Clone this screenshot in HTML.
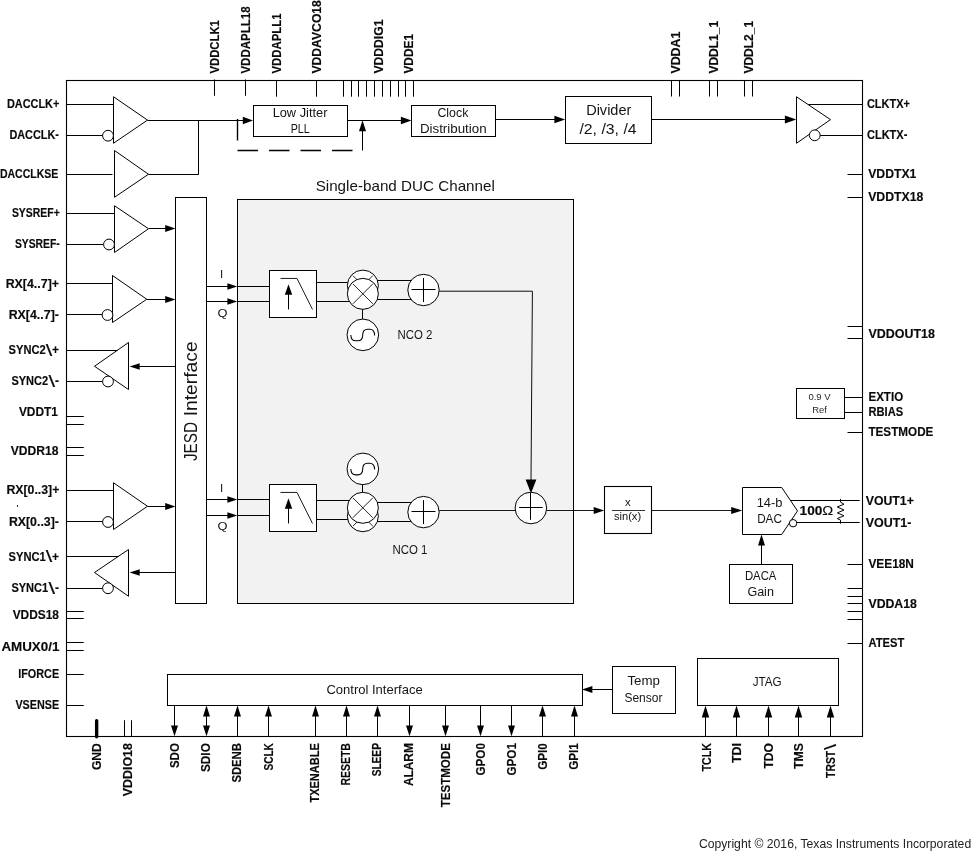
<!DOCTYPE html>
<html lang="en">
<head>
<meta charset="utf-8">
<title>Block Diagram</title>
<style>
html,body{margin:0;padding:0;background:#fff;}
svg{display:block;will-change:transform;}
text{white-space:pre;}
</style>
</head>
<body>
<svg width="972" height="851" viewBox="0 0 972 851">
<rect x="0" y="0" width="972" height="851" fill="#fff"/>
<g stroke="#000" fill="none" stroke-linecap="butt">
<rect x="66.5" y="80.5" width="796.0" height="656.0" fill="none" stroke-width="1.1"/>
<line x1="214.5" y1="79.5" x2="214.5" y2="95.8" stroke-width="1"/>
<line x1="245.5" y1="79.5" x2="245.5" y2="95.8" stroke-width="1"/>
<line x1="276.5" y1="80.3" x2="276.5" y2="96.7" stroke-width="1"/>
<line x1="316.5" y1="80.3" x2="316.5" y2="96.7" stroke-width="1"/>
<line x1="343.5" y1="80.3" x2="343.5" y2="96.7" stroke-width="1"/>
<line x1="351.5" y1="80.3" x2="351.5" y2="96.7" stroke-width="1"/>
<line x1="358.5" y1="80.3" x2="358.5" y2="96.7" stroke-width="1"/>
<line x1="366.5" y1="80.3" x2="366.5" y2="96.7" stroke-width="1"/>
<line x1="374.5" y1="80.3" x2="374.5" y2="96.7" stroke-width="1"/>
<line x1="382.5" y1="80.3" x2="382.5" y2="96.7" stroke-width="1"/>
<line x1="390.5" y1="80.3" x2="390.5" y2="96.7" stroke-width="1"/>
<line x1="398.5" y1="80.3" x2="398.5" y2="96.7" stroke-width="1"/>
<line x1="405.5" y1="80.3" x2="405.5" y2="96.7" stroke-width="1"/>
<line x1="413.5" y1="80.3" x2="413.5" y2="96.7" stroke-width="1"/>
<line x1="671.5" y1="80.3" x2="671.5" y2="96.5" stroke-width="1"/>
<line x1="679.5" y1="80.3" x2="679.5" y2="96.5" stroke-width="1"/>
<line x1="709.5" y1="80.3" x2="709.5" y2="96.5" stroke-width="1"/>
<line x1="717.5" y1="80.3" x2="717.5" y2="96.5" stroke-width="1"/>
<line x1="744.5" y1="80.3" x2="744.5" y2="96.5" stroke-width="1"/>
<line x1="752.5" y1="80.3" x2="752.5" y2="96.5" stroke-width="1"/>
<line x1="66.5" y1="416.5" x2="83.75" y2="416.5" stroke-width="1"/>
<line x1="66.5" y1="424.5" x2="83.75" y2="424.5" stroke-width="1"/>
<line x1="66.5" y1="447.5" x2="83.75" y2="447.5" stroke-width="1"/>
<line x1="66.5" y1="455.5" x2="83.75" y2="455.5" stroke-width="1"/>
<line x1="66.5" y1="611.5" x2="83.75" y2="611.5" stroke-width="1"/>
<line x1="66.5" y1="618.5" x2="83.75" y2="618.5" stroke-width="1"/>
<line x1="66.5" y1="642.5" x2="83.75" y2="642.5" stroke-width="1"/>
<line x1="66.5" y1="650.5" x2="83.75" y2="650.5" stroke-width="1"/>
<line x1="66.5" y1="674.5" x2="83.75" y2="674.5" stroke-width="1"/>
<line x1="66.5" y1="705.5" x2="83.75" y2="705.5" stroke-width="1"/>
<line x1="847.5" y1="174.5" x2="862.4" y2="174.5" stroke-width="1"/>
<line x1="847.5" y1="197.5" x2="862.4" y2="197.5" stroke-width="1"/>
<line x1="847.5" y1="326.5" x2="862.4" y2="326.5" stroke-width="1"/>
<line x1="847.5" y1="338.5" x2="862.4" y2="338.5" stroke-width="1"/>
<line x1="847.5" y1="432.5" x2="862.4" y2="432.5" stroke-width="1"/>
<line x1="847.5" y1="564.5" x2="862.4" y2="564.5" stroke-width="1"/>
<line x1="847.5" y1="588.5" x2="862.4" y2="588.5" stroke-width="1"/>
<line x1="847.5" y1="596.5" x2="862.4" y2="596.5" stroke-width="1"/>
<line x1="847.5" y1="603.5" x2="862.4" y2="603.5" stroke-width="1"/>
<line x1="847.5" y1="611.5" x2="862.4" y2="611.5" stroke-width="1"/>
<line x1="847.5" y1="619.5" x2="862.4" y2="619.5" stroke-width="1"/>
<line x1="847.5" y1="643.5" x2="862.4" y2="643.5" stroke-width="1"/>
<line x1="96.65" y1="720.8" x2="96.65" y2="736.8" stroke-width="3.4" stroke-linecap="round"/>
<line x1="124.5" y1="720.25" x2="124.5" y2="736.3" stroke-width="1"/>
<line x1="131.5" y1="720.25" x2="131.5" y2="736.3" stroke-width="1"/>
<line x1="66.5" y1="104.5" x2="113.5" y2="104.5" stroke-width="1"/>
<line x1="66.5" y1="135.5" x2="103" y2="135.5" stroke-width="1"/>
<polygon points="113.5,96.75 113.5,143.25 147.5,120.1" fill="#fff" stroke-width="1"/>
<circle cx="108" cy="135.7" r="5.4" fill="#fff" stroke-width="1"/>
<line x1="147.5" y1="120.5" x2="243" y2="120.5" stroke-width="1"/>
<polygon points="253,120.5 242.8,116.7 242.8,124.3" fill="#000" stroke="none"/>
<line x1="66.5" y1="174.5" x2="112.5" y2="174.5" stroke-width="1"/>
<polygon points="114.5,150.5 114.5,197.25 148.5,174.25" fill="#fff" stroke-width="1"/>
<line x1="148.5" y1="174.5" x2="198.75" y2="174.5" stroke-width="1"/>
<line x1="198.5" y1="120.1" x2="198.5" y2="174.25" stroke-width="1"/>
<line x1="66.5" y1="213.5" x2="114.5" y2="213.5" stroke-width="1"/>
<line x1="66.5" y1="244.5" x2="103.5" y2="244.5" stroke-width="1"/>
<polygon points="114.5,205.75 114.5,252.5 148.5,228.75" fill="#fff" stroke-width="1"/>
<circle cx="109" cy="244.5" r="5.4" fill="#fff" stroke-width="1"/>
<line x1="148.5" y1="228.5" x2="166" y2="228.5" stroke-width="1"/>
<polygon points="175.5,228.5 165.2,225.0 165.2,232.0" fill="#000" stroke="none"/>
<line x1="66.5" y1="283.5" x2="112.5" y2="283.5" stroke-width="1"/>
<line x1="66.5" y1="314.5" x2="102" y2="314.5" stroke-width="1"/>
<polygon points="112.5,275.5 112.5,322.5 146.75,299.25" fill="#fff" stroke-width="1"/>
<circle cx="107.5" cy="315" r="5.4" fill="#fff" stroke-width="1"/>
<line x1="146.75" y1="299.5" x2="166" y2="299.5" stroke-width="1"/>
<polygon points="175.5,299.5 165.2,296.0 165.2,303.0" fill="#000" stroke="none"/>
<polygon points="128.5,342.5 128.5,389.5 94.5,366.25" fill="#fff" stroke-width="1"/>
<line x1="66.5" y1="350.5" x2="117.5" y2="350.5" stroke-width="1"/>
<line x1="66.5" y1="381.5" x2="102.5" y2="381.5" stroke-width="1"/>
<circle cx="108" cy="381.5" r="5.4" fill="#fff" stroke-width="1"/>
<line x1="138" y1="366.5" x2="175.75" y2="366.5" stroke-width="1"/>
<polygon points="129.6,366.5 139.7,363.2 139.7,369.8" fill="#000" stroke="none"/>
<line x1="66.5" y1="490.5" x2="113.5" y2="490.5" stroke-width="1"/>
<line x1="66.5" y1="521.5" x2="102.5" y2="521.5" stroke-width="1"/>
<polygon points="113.5,482.75 113.5,529.5 147.5,506.25" fill="#fff" stroke-width="1"/>
<circle cx="108" cy="522" r="5.4" fill="#fff" stroke-width="1"/>
<line x1="147.5" y1="506.5" x2="166" y2="506.5" stroke-width="1"/>
<polygon points="175.5,506.5 165.2,503.0 165.2,510.0" fill="#000" stroke="none"/>
<polygon points="128.5,549.5 128.5,596.25 94.5,572.5" fill="#fff" stroke-width="1"/>
<line x1="66.5" y1="556.5" x2="118.5" y2="556.5" stroke-width="1"/>
<line x1="66.5" y1="588.5" x2="102.5" y2="588.5" stroke-width="1"/>
<circle cx="108" cy="588.25" r="5.4" fill="#fff" stroke-width="1"/>
<line x1="138" y1="572.5" x2="175.75" y2="572.5" stroke-width="1"/>
<polygon points="129.6,572.5 139.7,569.2 139.7,575.8" fill="#000" stroke="none"/>
<rect x="175.5" y="197.5" width="31.0" height="406.0" fill="#fff" stroke-width="1"/>
<rect x="237.5" y="199.5" width="336.0" height="404.0" fill="#f2f2f2" stroke-width="1"/>
<line x1="206.5" y1="286.5" x2="228" y2="286.5" stroke-width="1"/>
<polygon points="237.3,286.5 227.4,283.15 227.4,289.85" fill="#000" stroke="none"/>
<line x1="237.5" y1="286.5" x2="269.25" y2="286.5" stroke-width="1"/>
<line x1="206.5" y1="301.5" x2="228" y2="301.5" stroke-width="1"/>
<polygon points="237.3,301.5 227.4,298.15 227.4,304.85" fill="#000" stroke="none"/>
<line x1="237.5" y1="301.5" x2="269.25" y2="301.5" stroke-width="1"/>
<line x1="206.5" y1="499.5" x2="228" y2="499.5" stroke-width="1"/>
<polygon points="237.3,499.5 227.4,496.15 227.4,502.85" fill="#000" stroke="none"/>
<line x1="237.5" y1="499.5" x2="269.25" y2="499.5" stroke-width="1"/>
<line x1="206.5" y1="515.5" x2="228" y2="515.5" stroke-width="1"/>
<polygon points="237.3,515.5 227.4,512.15 227.4,518.85" fill="#000" stroke="none"/>
<line x1="237.5" y1="515.5" x2="269.25" y2="515.5" stroke-width="1"/>
<rect x="253.5" y="105.5" width="94.0" height="31.0" fill="#fff" stroke-width="1"/>
<line x1="237.5" y1="119" x2="237.5" y2="140.5" stroke-width="1.4"/>
<line x1="237.5" y1="150.5" x2="352.5" y2="150.5" stroke-width="1.4" stroke-dasharray="20.5 11"/>
<line x1="362.5" y1="129" x2="362.5" y2="150.5" stroke-width="1"/>
<polygon points="362.5,120.3 359.0,131.2 366.0,131.2" fill="#000" stroke="none"/>
<line x1="347.5" y1="120.5" x2="402" y2="120.5" stroke-width="1"/>
<polygon points="411.5,120.5 400.9,116.7 400.9,124.3" fill="#000" stroke="none"/>
<rect x="411.5" y="105.5" width="84.0" height="31.0" fill="#fff" stroke-width="1"/>
<line x1="495.5" y1="119.5" x2="556" y2="119.5" stroke-width="1"/>
<polygon points="565.2,119.5 554.4000000000001,115.7 554.4000000000001,123.3" fill="#000" stroke="none"/>
<rect x="565.5" y="96.5" width="86.0" height="47.0" fill="#fff" stroke-width="1"/>
<line x1="651.5" y1="119.5" x2="787" y2="119.5" stroke-width="1"/>
<polygon points="796.3,119.5 784.9,115.55 784.9,123.45" fill="#000" stroke="none"/>
<polygon points="796.5,96.75 796.5,143.25 830.5,119.6" fill="#fff" stroke-width="1"/>
<line x1="808.3" y1="104.5" x2="862.4" y2="104.5" stroke-width="1"/>
<line x1="820" y1="135.5" x2="862.4" y2="135.5" stroke-width="1"/>
<circle cx="814.75" cy="135.3" r="5.4" fill="#fff" stroke-width="1"/>
<rect x="269.5" y="270.5" width="47.0" height="47.0" fill="#fff" stroke-width="1"/>
<polyline points="280.5,278.45 297,278.45 312.5,309.45" fill="none" stroke-width="0.9"/>
<line x1="288.5" y1="293.25" x2="288.5" y2="309.45" stroke-width="1"/>
<polygon points="288.5,284.15 284.8,294.75 292.2,294.75" fill="#000" stroke="none"/>
<rect x="269.5" y="484.5" width="47.0" height="47.0" fill="#fff" stroke-width="1"/>
<polyline points="280.5,492.45 297,492.45 312.5,523.45" fill="none" stroke-width="0.9"/>
<line x1="288.5" y1="507.25" x2="288.5" y2="523.45" stroke-width="1"/>
<polygon points="288.5,498.15 284.8,508.75 292.2,508.75" fill="#000" stroke="none"/>
<line x1="316.75" y1="282.5" x2="350" y2="282.5" stroke-width="1"/>
<line x1="316.75" y1="301.5" x2="350" y2="301.5" stroke-width="1"/>
<line x1="362.5" y1="309" x2="362.5" y2="320" stroke-width="1"/>
<line x1="375" y1="280.5" x2="415" y2="280.5" stroke-width="1"/>
<line x1="375" y1="299.5" x2="415" y2="299.5" stroke-width="1"/>
<circle cx="362.85" cy="285.6" r="15.5" fill="#fff" stroke-width="1"/>
<line x1="352.85" y1="275.6" x2="372.85" y2="295.6" stroke-width="0.85"/>
<line x1="352.85" y1="295.6" x2="372.85" y2="275.6" stroke-width="0.85"/>
<circle cx="362.85" cy="293.85" r="15.5" fill="#fff" stroke-width="1"/>
<line x1="352.85" y1="283.85" x2="372.85" y2="303.85" stroke-width="0.85"/>
<line x1="352.85" y1="303.85" x2="372.85" y2="283.85" stroke-width="0.85"/>
<circle cx="423.5" cy="290" r="15.7" fill="#fff" stroke-width="1"/>
<line x1="411.5" y1="289.5" x2="435.5" y2="289.5" stroke-width="1"/>
<line x1="423.5" y1="278" x2="423.5" y2="302" stroke-width="1"/>
<circle cx="362.85" cy="334.85" r="15.8" fill="#fff" stroke-width="1"/>
<path d="M350.85,335.0 C350.85,338.8 352.65000000000003,340.8 355.85,340.8 L357.70000000000005,340.8 C360.90000000000003,340.8 362.70000000000005,338.8 362.70000000000005,335.0 C362.70000000000005,331.2 364.50000000000006,329.2 367.70000000000005,329.2 L369.6,329.2 C372.8,329.2 374.6,331.2 374.6,335.4" fill="none" stroke-width="1.05"/>
<polyline points="439.2,291.2 532.4,291.2 531,480" fill="none" stroke-width="0.95"/>
<line x1="316.75" y1="500.5" x2="350" y2="500.5" stroke-width="1"/>
<line x1="316.75" y1="519.5" x2="350" y2="519.5" stroke-width="1"/>
<line x1="362.5" y1="484" x2="362.5" y2="493" stroke-width="1"/>
<line x1="375" y1="502.5" x2="415" y2="502.5" stroke-width="1"/>
<line x1="375" y1="521.5" x2="415" y2="521.5" stroke-width="1"/>
<circle cx="362.85" cy="516.2" r="15.5" fill="#fff" stroke-width="1"/>
<line x1="352.85" y1="506.2" x2="372.85" y2="526.2" stroke-width="0.85"/>
<line x1="352.85" y1="526.2" x2="372.85" y2="506.2" stroke-width="0.85"/>
<circle cx="362.85" cy="507.8" r="15.5" fill="#fff" stroke-width="1"/>
<line x1="352.85" y1="497.8" x2="372.85" y2="517.8" stroke-width="0.85"/>
<line x1="352.85" y1="517.8" x2="372.85" y2="497.8" stroke-width="0.85"/>
<circle cx="423.5" cy="512.1" r="15.7" fill="#fff" stroke-width="1"/>
<line x1="411.5" y1="511.5" x2="435.5" y2="511.5" stroke-width="1"/>
<line x1="423.5" y1="500.1" x2="423.5" y2="524.1" stroke-width="1"/>
<circle cx="362.85" cy="468.9" r="15.8" fill="#fff" stroke-width="1"/>
<path d="M350.85,469.04999999999995 C350.85,472.84999999999997 352.65000000000003,474.84999999999997 355.85,474.84999999999997 L357.70000000000005,474.84999999999997 C360.90000000000003,474.84999999999997 362.70000000000005,472.84999999999997 362.70000000000005,469.04999999999995 C362.70000000000005,465.24999999999994 364.50000000000006,463.24999999999994 367.70000000000005,463.24999999999994 L369.6,463.24999999999994 C372.8,463.24999999999994 374.6,465.24999999999994 374.6,469.44999999999993" fill="none" stroke-width="1.05"/>
<line x1="439.2" y1="510.5" x2="515.5" y2="510.5" stroke-width="0.9"/>
<line x1="546.5" y1="510.5" x2="595" y2="510.5" stroke-width="0.9"/>
<circle cx="530.9" cy="508" r="15.8" fill="#fff" stroke-width="1"/>
<line x1="519.1" y1="507.5" x2="542.6999999999999" y2="507.5" stroke-width="1"/>
<line x1="530.5" y1="493" x2="530.5" y2="519.8" stroke-width="1"/>
<polygon points="531,493.3 525.6,479.6 536.4,479.6" fill="#000" stroke="none"/>
<polygon points="604.2,510.5 593.7,507.05 593.7,513.95" fill="#000" stroke="none"/>
<rect x="604.5" y="486.5" width="47.0" height="47.0" fill="#fff" stroke-width="1.1"/>
<line x1="612" y1="510.5" x2="645" y2="510.5" stroke-width="0.8"/>
<line x1="651.6" y1="510.5" x2="733" y2="510.5" stroke-width="0.9"/>
<polygon points="742.2,510.5 731.2,507.0 731.2,514.0" fill="#000" stroke="none"/>
<line x1="790.5" y1="500.5" x2="859.7" y2="500.5" stroke-width="1"/>
<line x1="796.5" y1="522.5" x2="859.7" y2="522.5" stroke-width="1"/>
<polygon points="742.5,487.5 781.7,487.5 797.5,510.9 781.7,534.5 742.5,534.5" fill="#fff" stroke-width="1"/>
<circle cx="793.1" cy="523.2" r="3.7" fill="#fff" stroke-width="1"/>
<polyline points="840.5,499 840.5,502.1 844,504.2 837.3,507 844,510 837.3,512.9 844,515.7 837.3,518.6 840.5,520.1 840.5,523.7" fill="none" stroke-width="1" stroke-linejoin="miter"/>
<rect x="729.5" y="564.5" width="63.0" height="39.0" fill="#fff" stroke-width="1"/>
<line x1="761.5" y1="544" x2="761.5" y2="564.5" stroke-width="1"/>
<polygon points="761.5,534.5 758.0,545.4 765.0,545.4" fill="#000" stroke="none"/>
<rect x="796.5" y="388.5" width="48.0" height="30.0" fill="#fff" stroke-width="1"/>
<line x1="844.5" y1="397.5" x2="862.4" y2="397.5" stroke-width="1"/>
<line x1="844.5" y1="412.5" x2="862.4" y2="412.5" stroke-width="1"/>
<rect x="167.5" y="674.5" width="415.0" height="31.0" fill="#fff" stroke-width="1"/>
<rect x="612.5" y="666.5" width="63.0" height="47.0" fill="#fff" stroke-width="1"/>
<line x1="592" y1="689.5" x2="612.5" y2="689.5" stroke-width="1"/>
<polygon points="582.1,689.5 592.4,686.0 592.4,693.0" fill="#000" stroke="none"/>
<rect x="697.5" y="658.5" width="141.0" height="47.0" fill="#fff" stroke-width="1"/>
<line x1="174.5" y1="705.6" x2="174.5" y2="727.3" stroke-width="1"/>
<polygon points="174.5,736.3 171.0,725.4 178.0,725.4" fill="#000" stroke="none"/>
<line x1="206.5" y1="714.6" x2="206.5" y2="727.3" stroke-width="1"/>
<polygon points="206.5,705.6 203.0,716.5 210.0,716.5" fill="#000" stroke="none"/>
<polygon points="206.5,736.3 203.0,725.4 210.0,725.4" fill="#000" stroke="none"/>
<line x1="237.5" y1="714.6" x2="237.5" y2="736.3" stroke-width="1"/>
<polygon points="237.5,705.6 233.9995,716.5 241.0005,716.5" fill="#000" stroke="none"/>
<line x1="268.5" y1="714.6" x2="268.5" y2="736.3" stroke-width="1"/>
<polygon points="268.5,705.6 264.9995,716.5 272.0005,716.5" fill="#000" stroke="none"/>
<line x1="315.5" y1="714.6" x2="315.5" y2="736.3" stroke-width="1"/>
<polygon points="315.5,705.6 311.9995,716.5 319.0005,716.5" fill="#000" stroke="none"/>
<line x1="346.5" y1="714.6" x2="346.5" y2="736.3" stroke-width="1"/>
<polygon points="346.5,705.6 342.9995,716.5 350.0005,716.5" fill="#000" stroke="none"/>
<line x1="377.5" y1="714.6" x2="377.5" y2="736.3" stroke-width="1"/>
<polygon points="377.5,705.6 373.9995,716.5 381.0005,716.5" fill="#000" stroke="none"/>
<line x1="409.5" y1="705.6" x2="409.5" y2="727.3" stroke-width="1"/>
<polygon points="409.5,736.3 406.0,725.4 413.0,725.4" fill="#000" stroke="none"/>
<line x1="445.5" y1="705.6" x2="445.5" y2="727.3" stroke-width="1"/>
<polygon points="445.5,736.3 442.0,725.4 449.0,725.4" fill="#000" stroke="none"/>
<line x1="480.5" y1="705.6" x2="480.5" y2="727.3" stroke-width="1"/>
<polygon points="480.5,736.3 477.0,725.4 484.0,725.4" fill="#000" stroke="none"/>
<line x1="511.5" y1="705.6" x2="511.5" y2="727.3" stroke-width="1"/>
<polygon points="511.5,736.3 508.0,725.4 515.0,725.4" fill="#000" stroke="none"/>
<line x1="542.5" y1="714.6" x2="542.5" y2="736.3" stroke-width="1"/>
<polygon points="542.5,705.6 538.9995,716.5 546.0005,716.5" fill="#000" stroke="none"/>
<line x1="574.5" y1="714.6" x2="574.5" y2="736.3" stroke-width="1"/>
<polygon points="574.5,705.6 570.9995,716.5 578.0005,716.5" fill="#000" stroke="none"/>
<line x1="705.5" y1="714.5" x2="705.5" y2="736.3" stroke-width="1"/>
<polygon points="705.5,705.5 701.7995,717.5 709.2005,717.5" fill="#000" stroke="none"/>
<line x1="736.5" y1="714.5" x2="736.5" y2="736.3" stroke-width="1"/>
<polygon points="736.5,705.5 732.7995,717.5 740.2005,717.5" fill="#000" stroke="none"/>
<line x1="768.5" y1="714.5" x2="768.5" y2="736.3" stroke-width="1"/>
<polygon points="768.5,705.5 764.7995,717.5 772.2005,717.5" fill="#000" stroke="none"/>
<line x1="798.5" y1="714.5" x2="798.5" y2="736.3" stroke-width="1"/>
<polygon points="798.5,705.5 794.7995,717.5 802.2005,717.5" fill="#000" stroke="none"/>
<line x1="830.5" y1="714.5" x2="830.5" y2="736.3" stroke-width="1"/>
<polygon points="830.5,705.5 826.7995,717.5 834.2005,717.5" fill="#000" stroke="none"/>
<rect x="17" y="505" width="1" height="2" fill="#222" stroke="none"/>
</g>
<g font-family="'Liberation Sans', Arial, sans-serif" stroke="none">
<text x="6.9" y="108" font-size="12.3" font-weight="bold" stroke="#0a0a0a" stroke-width="0.15" fill="#0a0a0a" textLength="52.5" lengthAdjust="spacingAndGlyphs">DACCLK+</text>
<text x="9.4" y="139.2" font-size="12.3" font-weight="bold" stroke="#0a0a0a" stroke-width="0.15" fill="#0a0a0a" textLength="49.6" lengthAdjust="spacingAndGlyphs">DACCLK-</text>
<text x="-0.1" y="178.2" font-size="12.3" font-weight="bold" stroke="#0a0a0a" stroke-width="0.15" fill="#0a0a0a" textLength="58.5" lengthAdjust="spacingAndGlyphs">DACCLKSE</text>
<text x="11.9" y="217" font-size="12.3" font-weight="bold" stroke="#0a0a0a" stroke-width="0.15" fill="#0a0a0a" textLength="47.9" lengthAdjust="spacingAndGlyphs">SYSREF+</text>
<text x="14.9" y="248" font-size="12.3" font-weight="bold" stroke="#0a0a0a" stroke-width="0.15" fill="#0a0a0a" textLength="44.9" lengthAdjust="spacingAndGlyphs">SYSREF-</text>
<text x="5.65" y="287.5" font-size="12.3" font-weight="bold" stroke="#0a0a0a" stroke-width="0.15" fill="#0a0a0a" textLength="53.35" lengthAdjust="spacingAndGlyphs">RX[4..7]+</text>
<text x="8.65" y="318.75" font-size="12.3" font-weight="bold" stroke="#0a0a0a" stroke-width="0.15" fill="#0a0a0a" textLength="50.25" lengthAdjust="spacingAndGlyphs">RX[4..7]-</text>
<text x="18.9" y="416.25" font-size="12.3" font-weight="bold" stroke="#0a0a0a" stroke-width="0.15" fill="#0a0a0a" textLength="39.0" lengthAdjust="spacingAndGlyphs">VDDT1</text>
<text x="10.65" y="455.25" font-size="12.3" font-weight="bold" stroke="#0a0a0a" stroke-width="0.15" fill="#0a0a0a" textLength="47.75" lengthAdjust="spacingAndGlyphs">VDDR18</text>
<text x="6.4" y="494" font-size="12.3" font-weight="bold" stroke="#0a0a0a" stroke-width="0.15" fill="#0a0a0a" textLength="53.0" lengthAdjust="spacingAndGlyphs">RX[0..3]+</text>
<text x="8.9" y="525.75" font-size="12.3" font-weight="bold" stroke="#0a0a0a" stroke-width="0.15" fill="#0a0a0a" textLength="50.0" lengthAdjust="spacingAndGlyphs">RX[0..3]-</text>
<text x="12.65" y="618.75" font-size="12.3" font-weight="bold" stroke="#0a0a0a" stroke-width="0.15" fill="#0a0a0a" textLength="46.25" lengthAdjust="spacingAndGlyphs">VDDS18</text>
<text x="1.4" y="650.75" font-size="12.3" font-weight="bold" stroke="#0a0a0a" stroke-width="0.15" fill="#0a0a0a" textLength="58.0" lengthAdjust="spacingAndGlyphs">AMUX0/1</text>
<text x="18.15" y="677.5" font-size="12.3" font-weight="bold" stroke="#0a0a0a" stroke-width="0.15" fill="#0a0a0a" textLength="41.0" lengthAdjust="spacingAndGlyphs">IFORCE</text>
<text x="15.4" y="709.25" font-size="12.3" font-weight="bold" stroke="#0a0a0a" stroke-width="0.15" fill="#0a0a0a" textLength="43.75" lengthAdjust="spacingAndGlyphs">VSENSE</text>
<text x="866.95" y="108" font-size="12.3" font-weight="bold" stroke="#0a0a0a" stroke-width="0.15" fill="#0a0a0a" textLength="42.95" lengthAdjust="spacingAndGlyphs">CLKTX+</text>
<text x="866.95" y="139" font-size="12.3" font-weight="bold" stroke="#0a0a0a" stroke-width="0.15" fill="#0a0a0a" textLength="40.45" lengthAdjust="spacingAndGlyphs">CLKTX-</text>
<text x="868.2" y="177.75" font-size="12.3" font-weight="bold" stroke="#0a0a0a" stroke-width="0.15" fill="#0a0a0a" textLength="48.2" lengthAdjust="spacingAndGlyphs">VDDTX1</text>
<text x="868.2" y="201.25" font-size="12.3" font-weight="bold" stroke="#0a0a0a" stroke-width="0.15" fill="#0a0a0a" textLength="55.2" lengthAdjust="spacingAndGlyphs">VDDTX18</text>
<text x="868.45" y="337.5" font-size="12.3" font-weight="bold" stroke="#0a0a0a" stroke-width="0.15" fill="#0a0a0a" textLength="66.45" lengthAdjust="spacingAndGlyphs">VDDOUT18</text>
<text x="868.45" y="401" font-size="12.3" font-weight="bold" stroke="#0a0a0a" stroke-width="0.15" fill="#0a0a0a" textLength="34.7" lengthAdjust="spacingAndGlyphs">EXTIO</text>
<text x="868.45" y="415.75" font-size="12.3" font-weight="bold" stroke="#0a0a0a" stroke-width="0.15" fill="#0a0a0a" textLength="34.7" lengthAdjust="spacingAndGlyphs">RBIAS</text>
<text x="868.45" y="436.25" font-size="12.3" font-weight="bold" stroke="#0a0a0a" stroke-width="0.15" fill="#0a0a0a" textLength="64.95" lengthAdjust="spacingAndGlyphs">TESTMODE</text>
<text x="865.7" y="504.5" font-size="12.3" font-weight="bold" stroke="#0a0a0a" stroke-width="0.15" fill="#0a0a0a" textLength="48.2" lengthAdjust="spacingAndGlyphs">VOUT1+</text>
<text x="865.7" y="526.5" font-size="12.3" font-weight="bold" stroke="#0a0a0a" stroke-width="0.15" fill="#0a0a0a" textLength="45.7" lengthAdjust="spacingAndGlyphs">VOUT1-</text>
<text x="868.45" y="568.25" font-size="12.3" font-weight="bold" stroke="#0a0a0a" stroke-width="0.15" fill="#0a0a0a" textLength="45.45" lengthAdjust="spacingAndGlyphs">VEE18N</text>
<text x="868.45" y="607.5" font-size="12.3" font-weight="bold" stroke="#0a0a0a" stroke-width="0.15" fill="#0a0a0a" textLength="48.45" lengthAdjust="spacingAndGlyphs">VDDA18</text>
<text x="868.45" y="646.5" font-size="12.3" font-weight="bold" stroke="#0a0a0a" stroke-width="0.15" fill="#0a0a0a" textLength="35.95" lengthAdjust="spacingAndGlyphs">ATEST</text>
<text transform="translate(218.5,73.6) rotate(-90)" font-size="12.3" font-weight="bold" stroke="#0a0a0a" stroke-width="0.15" fill="#0a0a0a" textLength="53.5" lengthAdjust="spacingAndGlyphs">VDDCLK1</text>
<text transform="translate(249.5,73.6) rotate(-90)" font-size="12.3" font-weight="bold" stroke="#0a0a0a" stroke-width="0.15" fill="#0a0a0a" textLength="67.25" lengthAdjust="spacingAndGlyphs">VDDAPLL18</text>
<text transform="translate(281.25,73.6) rotate(-90)" font-size="12.3" font-weight="bold" stroke="#0a0a0a" stroke-width="0.15" fill="#0a0a0a" textLength="60.25" lengthAdjust="spacingAndGlyphs">VDDAPLL1</text>
<text transform="translate(321,73.6) rotate(-90)" font-size="12.3" font-weight="bold" stroke="#0a0a0a" stroke-width="0.15" fill="#0a0a0a" textLength="73.5" lengthAdjust="spacingAndGlyphs">VDDAVCO18</text>
<text transform="translate(382.5,73.6) rotate(-90)" font-size="12.3" font-weight="bold" stroke="#0a0a0a" stroke-width="0.15" fill="#0a0a0a" textLength="54.0" lengthAdjust="spacingAndGlyphs">VDDDIG1</text>
<text transform="translate(412.5,73.6) rotate(-90)" font-size="12.3" font-weight="bold" stroke="#0a0a0a" stroke-width="0.15" fill="#0a0a0a" textLength="39.75" lengthAdjust="spacingAndGlyphs">VDDE1</text>
<text transform="translate(679.5,73.6) rotate(-90)" font-size="12.3" font-weight="bold" stroke="#0a0a0a" stroke-width="0.15" fill="#0a0a0a" textLength="42.0" lengthAdjust="spacingAndGlyphs">VDDA1</text>
<text transform="translate(718.25,73.6) rotate(-90)" font-size="12.3" font-weight="bold" stroke="#0a0a0a" stroke-width="0.15" fill="#0a0a0a" textLength="52.75" lengthAdjust="spacingAndGlyphs">VDDL1_1</text>
<text transform="translate(753.25,73.6) rotate(-90)" font-size="12.3" font-weight="bold" stroke="#0a0a0a" stroke-width="0.15" fill="#0a0a0a" textLength="52.75" lengthAdjust="spacingAndGlyphs">VDDL2_1</text>
<text transform="translate(100.5,770.1) rotate(-90)" font-size="12.3" font-weight="bold" stroke="#0a0a0a" stroke-width="0.15" fill="#0a0a0a" textLength="27.0" lengthAdjust="spacingAndGlyphs">GND</text>
<text transform="translate(131.75,796.35) rotate(-90)" font-size="12.3" font-weight="bold" stroke="#0a0a0a" stroke-width="0.15" fill="#0a0a0a" textLength="53.25" lengthAdjust="spacingAndGlyphs">VDDIO18</text>
<text transform="translate(179.25,768.1) rotate(-90)" font-size="12.3" font-weight="bold" stroke="#0a0a0a" stroke-width="0.15" fill="#0a0a0a" textLength="25.0" lengthAdjust="spacingAndGlyphs">SDO</text>
<text transform="translate(210.25,772.1) rotate(-90)" font-size="12.3" font-weight="bold" stroke="#0a0a0a" stroke-width="0.15" fill="#0a0a0a" textLength="29.0" lengthAdjust="spacingAndGlyphs">SDIO</text>
<text transform="translate(241.25,782.6) rotate(-90)" font-size="12.3" font-weight="bold" stroke="#0a0a0a" stroke-width="0.15" fill="#0a0a0a" textLength="39.5" lengthAdjust="spacingAndGlyphs">SDENB</text>
<text transform="translate(272.5,770.6) rotate(-90)" font-size="12.3" font-weight="bold" stroke="#0a0a0a" stroke-width="0.15" fill="#0a0a0a" textLength="27.5" lengthAdjust="spacingAndGlyphs">SCLK</text>
<text transform="translate(319.25,802.6) rotate(-90)" font-size="12.3" font-weight="bold" stroke="#0a0a0a" stroke-width="0.15" fill="#0a0a0a" textLength="59.5" lengthAdjust="spacingAndGlyphs">TXENABLE</text>
<text transform="translate(350.25,785.6) rotate(-90)" font-size="12.3" font-weight="bold" stroke="#0a0a0a" stroke-width="0.15" fill="#0a0a0a" textLength="42.5" lengthAdjust="spacingAndGlyphs">RESETB</text>
<text transform="translate(381.25,776.35) rotate(-90)" font-size="12.3" font-weight="bold" stroke="#0a0a0a" stroke-width="0.15" fill="#0a0a0a" textLength="33.25" lengthAdjust="spacingAndGlyphs">SLEEP</text>
<text transform="translate(413.25,786.1) rotate(-90)" font-size="12.3" font-weight="bold" stroke="#0a0a0a" stroke-width="0.15" fill="#0a0a0a" textLength="43.0" lengthAdjust="spacingAndGlyphs">ALARM</text>
<text transform="translate(449.5,807.35) rotate(-90)" font-size="12.3" font-weight="bold" stroke="#0a0a0a" stroke-width="0.15" fill="#0a0a0a" textLength="64.25" lengthAdjust="spacingAndGlyphs">TESTMODE</text>
<text transform="translate(484.5,775.6) rotate(-90)" font-size="12.3" font-weight="bold" stroke="#0a0a0a" stroke-width="0.15" fill="#0a0a0a" textLength="32.5" lengthAdjust="spacingAndGlyphs">GPO0</text>
<text transform="translate(515.5,775.6) rotate(-90)" font-size="12.3" font-weight="bold" stroke="#0a0a0a" stroke-width="0.15" fill="#0a0a0a" textLength="32.5" lengthAdjust="spacingAndGlyphs">GPO1</text>
<text transform="translate(546.75,769.85) rotate(-90)" font-size="12.3" font-weight="bold" stroke="#0a0a0a" stroke-width="0.15" fill="#0a0a0a" textLength="26.75" lengthAdjust="spacingAndGlyphs">GPI0</text>
<text transform="translate(578,769.85) rotate(-90)" font-size="12.3" font-weight="bold" stroke="#0a0a0a" stroke-width="0.15" fill="#0a0a0a" textLength="26.75" lengthAdjust="spacingAndGlyphs">GPI1</text>
<text transform="translate(710.5,771.35) rotate(-90)" font-size="12.3" font-weight="bold" stroke="#0a0a0a" stroke-width="0.15" fill="#0a0a0a" textLength="28.25" lengthAdjust="spacingAndGlyphs">TCLK</text>
<text transform="translate(741.25,763.1) rotate(-90)" font-size="12.3" font-weight="bold" stroke="#0a0a0a" stroke-width="0.15" fill="#0a0a0a" textLength="20.0" lengthAdjust="spacingAndGlyphs">TDI</text>
<text transform="translate(772.5,768.6) rotate(-90)" font-size="12.3" font-weight="bold" stroke="#0a0a0a" stroke-width="0.15" fill="#0a0a0a" textLength="25.5" lengthAdjust="spacingAndGlyphs">TDO</text>
<text transform="translate(803,769.1) rotate(-90)" font-size="12.3" font-weight="bold" stroke="#0a0a0a" stroke-width="0.15" fill="#0a0a0a" textLength="26.0" lengthAdjust="spacingAndGlyphs">TMS</text>
<text font-size="12.3" font-weight="bold" stroke="#0a0a0a" stroke-width="0.15" fill="#0a0a0a"><tspan x="8.5" y="354" textLength="37.2" lengthAdjust="spacingAndGlyphs">SYNC2</tspan><tspan x="45.8" y="355.5" font-size="15.8" font-weight="normal" stroke-width="0.1" textLength="6.5" lengthAdjust="spacingAndGlyphs">\</tspan><tspan x="52.1" y="354" textLength="7.0" lengthAdjust="spacingAndGlyphs">+</tspan></text>
<text font-size="12.3" font-weight="bold" stroke="#0a0a0a" stroke-width="0.15" fill="#0a0a0a"><tspan x="8.5" y="560.5" textLength="37.2" lengthAdjust="spacingAndGlyphs">SYNC1</tspan><tspan x="45.8" y="562.0" font-size="15.8" font-weight="normal" stroke-width="0.1" textLength="6.5" lengthAdjust="spacingAndGlyphs">\</tspan><tspan x="52.1" y="560.5" textLength="7.0" lengthAdjust="spacingAndGlyphs">+</tspan></text>
<text font-size="12.3" font-weight="bold" stroke="#0a0a0a" stroke-width="0.15" fill="#0a0a0a"><tspan x="11.4" y="385" textLength="36.8" lengthAdjust="spacingAndGlyphs">SYNC2</tspan><tspan x="48.4" y="386.5" font-size="15.8" font-weight="normal" stroke-width="0.1" textLength="6.6" lengthAdjust="spacingAndGlyphs">\</tspan><tspan x="55.1" y="385" textLength="4.0" lengthAdjust="spacingAndGlyphs">-</tspan></text>
<text font-size="12.3" font-weight="bold" stroke="#0a0a0a" stroke-width="0.15" fill="#0a0a0a"><tspan x="11.4" y="592" textLength="36.8" lengthAdjust="spacingAndGlyphs">SYNC1</tspan><tspan x="48.4" y="593.5" font-size="15.8" font-weight="normal" stroke-width="0.1" textLength="6.6" lengthAdjust="spacingAndGlyphs">\</tspan><tspan x="55.1" y="592" textLength="4.0" lengthAdjust="spacingAndGlyphs">-</tspan></text>
<text font-size="12.3" font-weight="bold" stroke="#0a0a0a" stroke-width="0.15" fill="#0a0a0a" transform="translate(835,777.4) rotate(-90)"><tspan x="-0.5" y="0" textLength="27.1" lengthAdjust="spacingAndGlyphs">TRST</tspan><tspan x="27.4" y="1.2" font-size="15.8" font-weight="normal" stroke-width="0.1" textLength="6.1" lengthAdjust="spacingAndGlyphs">\</tspan></text>
<text x="272.65" y="117" font-size="12.3" fill="#141414" textLength="54.75" lengthAdjust="spacingAndGlyphs">Low Jitter</text>
<text x="290.65" y="132.75" font-size="12.3" fill="#141414" textLength="19.0" lengthAdjust="spacingAndGlyphs">PLL</text>
<text x="437.4" y="116.5" font-size="12.3" fill="#141414" textLength="31.0" lengthAdjust="spacingAndGlyphs">Clock</text>
<text x="419.9" y="132.75" font-size="12.3" fill="#141414" textLength="66.75" lengthAdjust="spacingAndGlyphs">Distribution</text>
<text x="586.15" y="114.75" font-size="14" fill="#141414" textLength="45.25" lengthAdjust="spacingAndGlyphs">Divider</text>
<text x="579.4" y="134" font-size="14" fill="#141414" textLength="57.25" lengthAdjust="spacingAndGlyphs">/2, /3, /4</text>
<text x="315.65" y="191" font-size="15" fill="#141414" textLength="179.25" lengthAdjust="spacingAndGlyphs">Single-band DUC Channel</text>
<text transform="translate(197.2,461.1) rotate(-90)" font-size="18.9" fill="#141414"><tspan x="0" y="0" textLength="39.2" lengthAdjust="spacingAndGlyphs">JESD</tspan> <tspan x="44.8" y="0" textLength="74.9" lengthAdjust="spacingAndGlyphs">Interface</tspan></text>
<text x="221.6" y="277.5" font-size="11.5" text-anchor="middle" fill="#141414">I</text>
<text x="217.4" y="317" font-size="11.5" fill="#141414" textLength="10.0" lengthAdjust="spacingAndGlyphs">Q</text>
<text x="221.6" y="491.5" font-size="11.5" text-anchor="middle" fill="#141414">I</text>
<text x="217.4" y="530" font-size="11.5" fill="#141414" textLength="10.0" lengthAdjust="spacingAndGlyphs">Q</text>
<text x="397.4" y="338.75" font-size="12.3" fill="#141414" textLength="35.0" lengthAdjust="spacingAndGlyphs">NCO 2</text>
<text x="392.4" y="553.75" font-size="12.3" fill="#141414" textLength="35.0" lengthAdjust="spacingAndGlyphs">NCO 1</text>
<text x="625.0" y="505.7" font-size="10.2" fill="#141414" textLength="5.7" lengthAdjust="spacingAndGlyphs">x</text>
<text x="613.9" y="520.1" font-size="10.2" fill="#141414" textLength="27.25" lengthAdjust="spacingAndGlyphs">sin(x)</text>
<text x="756.65" y="506.75" font-size="12.3" fill="#141414" textLength="25.75" lengthAdjust="spacingAndGlyphs">14-b</text>
<text x="757.15" y="523.25" font-size="12.3" fill="#141414" textLength="24.75" lengthAdjust="spacingAndGlyphs">DAC</text>
<text x="744.9" y="580.25" font-size="12.3" fill="#141414" textLength="31.5" lengthAdjust="spacingAndGlyphs">DACA</text>
<text x="747.4" y="596.25" font-size="12.3" fill="#141414" textLength="26.5" lengthAdjust="spacingAndGlyphs">Gain</text>
<text x="808.4" y="400" font-size="9.4" fill="#2a2a2a" textLength="22.25" lengthAdjust="spacingAndGlyphs">0.9 V</text>
<text x="812.15" y="412.5" font-size="9.4" fill="#2a2a2a" textLength="14.75" lengthAdjust="spacingAndGlyphs">Ref</text>
<text x="326.4" y="693.75" font-size="12.8" fill="#141414" textLength="96.25" lengthAdjust="spacingAndGlyphs">Control Interface</text>
<text x="627.4" y="685.3" font-size="12.5" fill="#141414" textLength="32.5" lengthAdjust="spacingAndGlyphs">Temp</text>
<text x="624.4" y="701.75" font-size="12.5" fill="#141414" textLength="38.0" lengthAdjust="spacingAndGlyphs">Sensor</text>
<text x="752.65" y="685.5" font-size="12.3" fill="#141414" textLength="29.0" lengthAdjust="spacingAndGlyphs">JTAG</text>
<text font-size="12.5" font-weight="bold" stroke="#0a0a0a" stroke-width="0.15" fill="#0a0a0a"><tspan x="799.6" y="514.5" textLength="22.8" lengthAdjust="spacingAndGlyphs">100</tspan><tspan x="822.3" y="514.5" font-size="13.2" font-weight="normal" stroke-width="0.1" textLength="11.0" lengthAdjust="spacingAndGlyphs">Ω</tspan></text>
<text x="698.9" y="847.5" font-size="12.2" fill="#222" textLength="272.3" lengthAdjust="spacingAndGlyphs">Copyright © 2016, Texas Instruments Incorporated</text>
</g>
</svg>
</body>
</html>
